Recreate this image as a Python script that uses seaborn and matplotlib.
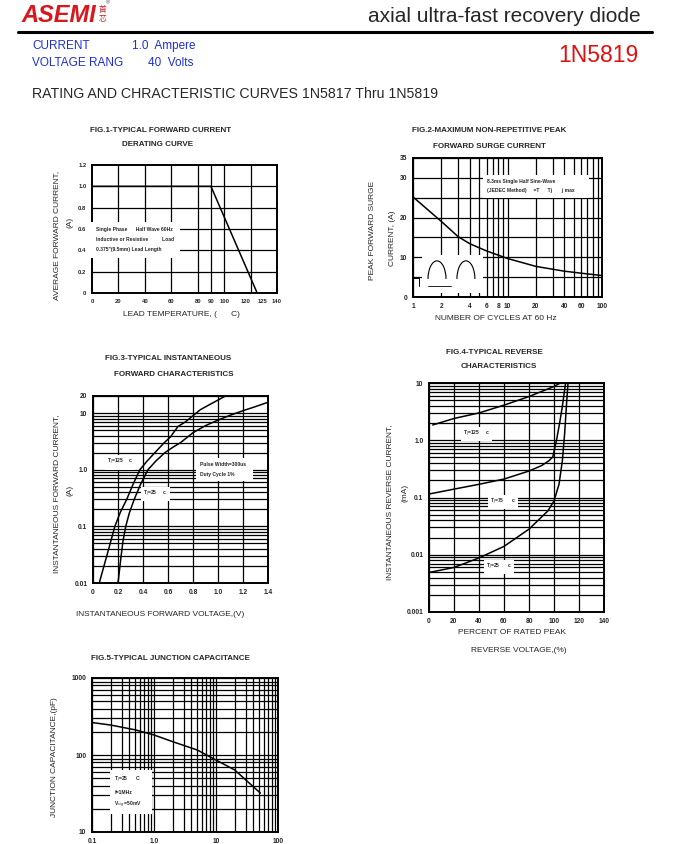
import matplotlib
matplotlib.use("Agg")
import matplotlib.pyplot as plt
from matplotlib.patches import Arc
from matplotlib.ticker import NullFormatter
import seaborn as sns

# Fig.1 derating curve
fig1_temp = [0, 90, 125]
fig1_current = [1.0, 1.0, 0.0]
fig1_xticks = [0, 20, 40, 60, 80, 90, 100, 120, 125, 140]
fig1_xgrid = [20, 40, 60, 80, 90, 100, 120]
fig1_yticks = [0, 0.2, 0.4, 0.6, 0.8, 1.0, 1.2]

# Fig.2 surge current
fig2_cycles = [1, 2, 3, 4, 6, 10, 20, 40, 60, 100]
fig2_current = [25.2, 19.0, 15.2, 13.4, 11.6, 9.7, 7.7, 6.5, 6.0, 5.4]
fig2_xticks = [1, 2, 4, 6, 8, 10, 20, 40, 60, 100]
fig2_xminor = [3, 5, 7, 9, 30, 50, 70, 80, 90]
fig2_yticks = [0, 10, 20, 30, 35]
fig2_yminor = [5, 15, 25]

# Fig.3 forward characteristics
fig3_v125 = [0.05, 0.11, 0.175, 0.22, 0.27, 0.32, 0.375, 0.43, 0.495, 0.57, 0.62, 0.68, 0.74, 0.8, 0.86, 0.93, 1.06]
fig3_i125 = [0.01, 0.03, 0.1, 0.18, 0.3, 0.55, 1.0, 1.4, 2.0, 3.0, 3.8, 5.8, 7.0, 9.0, 11.5, 14.0, 20.0]
fig3_v25 = [0.2, 0.225, 0.24, 0.262, 0.29, 0.33, 0.38, 0.44, 0.5, 0.575, 0.64, 0.70, 0.8, 0.9, 1.0, 1.1, 1.2, 1.3, 1.4]
fig3_i25 = [0.01, 0.03, 0.055, 0.1, 0.17, 0.3, 0.55, 1.0, 1.4, 2.0, 2.5, 3.0, 4.5, 6.0, 7.5, 9.2, 11.0, 13.0, 15.5]
fig3_xticks = [0, 0.2, 0.4, 0.6, 0.8, 1.0, 1.2, 1.4]
fig3_yticks = [0.01, 0.1, 1.0, 10, 20]
fig3_ylabels = ["0.01", "0.1", "1.0", "10", "20"]

# Fig.4 reverse characteristics
fig4_p125 = [3, 20, 40, 60, 80, 100, 105]
fig4_i125 = [1.85, 2.4, 3.0, 4.1, 5.8, 8.7, 10]
fig4_p75 = [0, 20, 40, 60, 80, 90, 96, 99, 102, 104.5, 106.7, 108.5, 109.3]
fig4_i75 = [0.115, 0.14, 0.17, 0.21, 0.29, 0.36, 0.44, 0.51, 1.0, 2.0, 3.9, 7.6, 10]
fig4_p25 = [0, 20, 40, 60, 80, 95, 100, 104, 106.7, 108.5, 109.9, 111.2]
fig4_i25 = [0.0049, 0.006, 0.0088, 0.014, 0.028, 0.058, 0.087, 0.17, 0.44, 1.3, 3.9, 10]
fig4_xticks = [0, 20, 40, 60, 80, 100, 120, 140]
fig4_yticks = [0.001, 0.01, 0.1, 1.0, 10]
fig4_ylabels = ["0.001", "0.01", "0.1", "1.0", "10"]

# Fig.5 junction capacitance
fig5_volt = [0.1, 0.2, 0.5, 1, 2, 5, 10, 20, 52]
fig5_cap = [264, 245, 212, 182, 149, 116, 86, 64, 32]
fig5_xticks = [0.1, 1.0, 10, 100]
fig5_xlabels = ["0.1", "1.0", "10", "100"]
fig5_yticks = [10, 100, 1000]

sns.set_style("white")
plt.rcParams['font.family'] = ['Liberation Sans', 'Noto Sans CJK SC', 'DejaVu Sans']

W, H = 677, 844
fig = plt.figure(figsize=(W / 100, H / 100), dpi=100)


def px_axes(l, t, r, b):
    return fig.add_axes([l / W, 1 - b / H, (r - l) / W, (b - t) / H])


def px_text(x, y, s, **kw):
    kw.setdefault("va", "center")
    fig.text(x / W, 1 - y / H, s, **kw)


def style_axes(ax, size=4.8):
    for sp in ax.spines.values():
        sp.set_linewidth(1.4)
        sp.set_color("black")
    ax.tick_params(which="both", length=0, labelsize=size, pad=4)
    for lab in ax.get_xticklabels() + ax.get_yticklabels():
        lab.set_fontweight("bold")
    ax.set_xlabel("")
    ax.set_ylabel("")


grid_kw = dict(color="black", linewidth=0.9)
box = dict(facecolor="white", edgecolor="none", pad=1.5)
small = dict(fontsize=3.6, fontweight="bold")

# ---------------- header ----------------
px_text(21, 15, "ASEMI", color="#d8161b", fontsize=17, fontweight="heavy",
        style="italic", family=["Liberation Sans"])
px_text(99, 10, "首", fontsize=5.5, color="#b22")
px_text(99, 20, "芯", fontsize=5.5, color="#b22")
px_text(106, 3, "®", fontsize=4, color="#444")
px_text(641, 17, "axial ultra-fast recovery diode", fontsize=15, ha="right")
fig.add_artist(plt.Line2D([18 / W, 652 / W], [1 - 32 / H, 1 - 32 / H], color="black", linewidth=2.2))
px_text(32, 46, "CURRENT", color="#1f2fd6", fontsize=8.5)
px_text(132, 46, "1.0  Ampere", color="#1f2fd6", fontsize=8.5)
px_text(32, 63, "VOLTAGE RANG", color="#1f2fd6", fontsize=8.5)
px_text(148, 63, "40  Volts", color="#1f2fd6", fontsize=8.5)
px_text(638, 56, "1N5819", color="#e01010", fontsize=16.5, ha="right")
px_text(32, 94, "RATING AND CHRACTERISTIC CURVES 1N5817 Thru 1N5819", fontsize=10.2)

title_kw = dict(fontsize=5.8, fontweight="bold", ha="center")
lab_kw = dict(fontsize=6, ha="center")

# ---------------- Fig.1 ----------------
ax1 = px_axes(92, 165, 277, 293)
for xg in fig1_xgrid:
    ax1.axvline(xg, **grid_kw)
for yg in fig1_yticks[1:-1]:
    ax1.axhline(yg, **grid_kw)
sns.lineplot(x=fig1_temp, y=fig1_current, ax=ax1, color="black", linewidth=1.1)
ax1.set_xlim(0, 140)
ax1.set_ylim(0, 1.2)
ax1.set_xticks(fig1_xticks)
ax1.set_xticklabels([str(t) for t in fig1_xticks])
ax1.set_yticks(fig1_yticks)
ax1.set_yticklabels(["0", "0.2", "0.4", "0.6", "0.8", "1.0", "1.2"])
style_axes(ax1, size=4.2)
xl1 = ax1.get_xticklabels()
xl1[7].set_ha("right")
xl1[8].set_ha("left")
ax1.text(3, 0.5, "Single Phase      Half Wave 60Hz\n\nInductive or Resistive          Load\n\n0.375\"(9.5mm) Lead Length     ",
         va="center", ha="left", bbox=dict(facecolor="white", edgecolor="none", pad=4), linespacing=1.0, **small)
px_text(161, 130, "FIG.1-TYPICAL FORWARD CURRENT", **title_kw)
px_text(157, 144, "DERATING CURVE", **title_kw)
px_text(57, 235, "AVERAGE FORWARD CURRENT,", rotation=90, **lab_kw)
px_text(70, 222, "(A)", rotation=90, **lab_kw)
px_text(181, 314, "LEAD TEMPERATURE, (      C)", **lab_kw)

# ---------------- Fig.2 ----------------
ax2 = px_axes(413, 158, 602, 297)
ax2.set_xscale("log")
sns.lineplot(x=fig2_cycles, y=fig2_current, ax=ax2, color="black", linewidth=1.1)
ax2.set_xlim(1, 100)
ax2.set_ylim(0, 35)
ax2.set_xticks(fig2_xticks)
ax2.set_xticklabels([str(t) for t in fig2_xticks])
ax2.set_xticks(fig2_xminor, minor=True)
ax2.xaxis.set_minor_formatter(NullFormatter())
ax2.set_yticks(fig2_yticks)
ax2.set_yticks(fig2_yminor, minor=True)
ax2.grid(which="both", **grid_kw)
ax2.set_axisbelow(True)
style_axes(ax2)
ax2.text(0.39, 0.795, "8.3ms Single Half Sine-Wave\n(JEDEC Method)     =T      Tj       j max        ",
         transform=ax2.transAxes, va="center", ha="left", linespacing=2.0,
         bbox=dict(facecolor="white", edgecolor="none", pad=3), **small)
ax2.add_patch(plt.Rectangle((0.05, 0.03), 0.32, 0.27, transform=ax2.transAxes,
                            facecolor="white", edgecolor="none", zorder=2))
for cx in [0.127, 0.28]:
    ax2.add_patch(Arc((cx, 0.13), 0.095, 0.26, theta1=0, theta2=180,
                      transform=ax2.transAxes, color="black", linewidth=0.8, zorder=3))
ax2.plot([0.0, 0.03, 0.03], [0.14, 0.14, 0.08], transform=ax2.transAxes, color="black", lw=0.7, zorder=3)
ax2.plot([0.08, 0.2], [0.08, 0.08], transform=ax2.transAxes, color="black", lw=0.6, zorder=3)
px_text(489, 131, "FIG.2-MAXIMUM NON-REPETITIVE PEAK", **title_kw)
px_text(489, 147, "FORWARD SURGE CURRENT", **title_kw)
px_text(372, 230, "PEAK FORWARD SURGE", rotation=90, **lab_kw)
px_text(392, 238, "CURRENT, (A)", rotation=90, **lab_kw)
px_text(496, 318, "NUMBER OF CYCLES AT 60 Hz", **lab_kw)

# ---------------- Fig.3 ----------------
ax3 = px_axes(93, 396, 268, 583)
ax3.set_yscale("log")
sns.lineplot(x=fig3_v125, y=fig3_i125, ax=ax3, color="black", linewidth=1.1)
sns.lineplot(x=fig3_v25, y=fig3_i25, ax=ax3, color="black", linewidth=1.1)
ax3.set_xlim(0, 1.4)
ax3.set_ylim(0.01, 20)
ax3.set_xticks(fig3_xticks)
ax3.set_xticklabels(["0", "0.2", "0.4", "0.6", "0.8", "1.0", "1.2", "1.4"])
ax3.set_yticks(fig3_yticks)
ax3.set_yticklabels(fig3_ylabels)
ax3.yaxis.set_minor_formatter(NullFormatter())
ax3.grid(which="both", **grid_kw)
ax3.set_axisbelow(True)
style_axes(ax3)
ax3.text(0.11, 1.35, "T$_J$=125    c", va="center", ha="left", bbox=box, **small)
ax3.text(0.40, 0.37, "T$_J$=25     c", va="center", ha="left", bbox=box, **small)
ax3.text(0.86, 1.0, "Pulse Width=300us\n\nDuty Cycle 1%          ", va="center", ha="left",
         bbox=dict(facecolor="white", edgecolor="none", pad=3), linespacing=1.0, **small)
px_text(168, 359, "FIG.3-TYPICAL INSTANTANEOUS", **title_kw)
px_text(174, 374, "FORWARD CHARACTERISTICS", **title_kw)
px_text(57, 494, "INSTANTANEOUS FORWARD CURRENT,", rotation=90, **lab_kw)
px_text(70, 490, "(A)", rotation=90, **lab_kw)
px_text(160, 614, "INSTANTANEOUS FORWARD VOLTAGE,(V)", **lab_kw)

# ---------------- Fig.4 ----------------
ax4 = px_axes(429, 383, 604, 612)
ax4.set_yscale("log")
sns.lineplot(x=fig4_p125, y=fig4_i125, ax=ax4, color="black", linewidth=1.1)
sns.lineplot(x=fig4_p75, y=fig4_i75, ax=ax4, color="black", linewidth=1.1)
sns.lineplot(x=fig4_p25, y=fig4_i25, ax=ax4, color="black", linewidth=1.1)
ax4.set_xlim(0, 140)
ax4.set_ylim(0.001, 10)
ax4.set_xticks(fig4_xticks)
ax4.set_xticklabels([str(t) for t in fig4_xticks])
ax4.set_yticks(fig4_yticks)
ax4.set_yticklabels(fig4_ylabels)
ax4.yaxis.set_minor_formatter(NullFormatter())
ax4.grid(which="both", **grid_kw)
ax4.set_axisbelow(True)
style_axes(ax4)
ax4.text(27, 1.3, "T$_J$=125     c", va="center", ha="left", bbox=box, **small)
ax4.text(49, 0.083, "T$_J$=75      c", va="center", ha="left", bbox=box, **small)
ax4.text(46, 0.0061, "T$_J$=25      c", va="center", ha="left", bbox=box, **small)
px_text(494, 352, "FIG.4-TYPICAL REVERSE", **title_kw)
px_text(499, 367, "CHARACTERISTICS", **title_kw)
px_text(390, 502, "INSTANTANEOUS REVERSE CURRENT,", rotation=90, **lab_kw)
px_text(405, 493, "(mA)", rotation=90, **lab_kw)
px_text(512, 632, "PERCENT OF RATED PEAK", **lab_kw)
px_text(519, 651, "REVERSE VOLTAGE,(%)", **lab_kw)

# ---------------- Fig.5 ----------------
ax5 = px_axes(92, 678, 278, 832)
ax5.set_xscale("log")
ax5.set_yscale("log")
sns.lineplot(x=fig5_volt, y=fig5_cap, ax=ax5, color="black", linewidth=1.1)
ax5.set_xlim(0.1, 100)
ax5.set_ylim(10, 1000)
ax5.set_xticks(fig5_xticks)
ax5.set_xticklabels(fig5_xlabels)
ax5.set_yticks(fig5_yticks)
ax5.set_yticklabels([str(t) for t in fig5_yticks])
ax5.xaxis.set_minor_formatter(NullFormatter())
ax5.yaxis.set_minor_formatter(NullFormatter())
ax5.grid(which="both", **grid_kw)
ax5.set_axisbelow(True)
style_axes(ax5)
ax5.text(0.23, 33, "T$_J$=25      C\n\nf=1MHz\n\nV$_{sig}$ =50mV     ", va="center", ha="left",
         bbox=dict(facecolor="white", edgecolor="none", pad=3), linespacing=1.0, **small)
px_text(170, 658, "FIG.5-TYPICAL JUNCTION CAPACITANCE", **title_kw)
px_text(55, 757, "JUNCTION CAPACITANCE,(pF)", rotation=90, **lab_kw)

fig.savefig("out.png", dpi=100)
